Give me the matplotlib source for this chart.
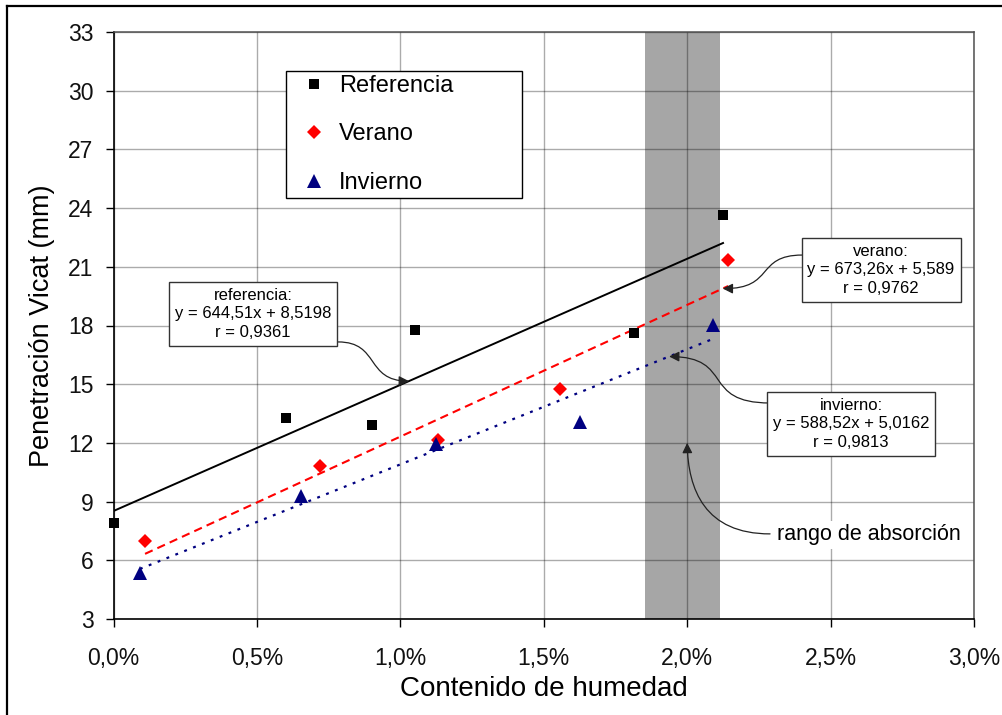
import matplotlib
matplotlib.use("Agg")
import matplotlib.pyplot as plt
from matplotlib.lines import Line2D
from matplotlib.patches import FancyArrowPatch
from matplotlib.path import Path
from matplotlib.ticker import FuncFormatter, MultipleLocator

plt.rcParams['font.family'] = ['Liberation Sans', 'DejaVu Sans']

# datos (contenido de humedad como fraccion, penetracion en mm)
ref_x = [0.0, 0.0060, 0.0090, 0.0105, 0.01815, 0.02125]
ref_y = [7.9, 13.28, 12.92, 17.77, 17.62, 23.65]
ver_x = [0.0011, 0.0072, 0.0113, 0.01557, 0.02143]
ver_y = [6.99, 10.84, 12.15, 14.76, 21.35]
inv_x = [0.00092, 0.00654, 0.01125, 0.01627, 0.0209]
inv_y = [5.36, 9.3, 11.95, 13.07, 18.03]

series_names = ['Referencia', 'Verano', 'Invierno']
fit_names = ['referencia', 'verano', 'invierno']
slopes = [644.51, 673.26, 588.52]
intercepts = [8.5198, 5.589, 5.0162]
r_values = [0.9361, 0.9762, 0.9813]

# rango de absorcion
band = [0.01852, 0.02114]

fig = plt.figure(figsize=(10.02, 7.15), dpi=100)
ax = fig.add_axes([113.5/1002, 1-619/715, 860.5/1002, 587/715])

ax.axvspan(band[0], band[1], color='#a6a6a6', lw=0, zorder=0)

xs = [ref_x, ver_x, inv_x]
ys = [ref_y, ver_y, inv_y]
colors = ['black', 'red', '#000080']
markers = ['s', 'D', '^']
msizes = [7.2, 7.6, 10.5]
lstyles = ['-', (0, (4, 2.5)), (0, (1.3, 3))]
lws = [1.4, 1.5, 1.6]

for i in range(3):
    x0, x1 = min(xs[i]), max(xs[i])
    ax.plot([x0, x1], [slopes[i]*x0 + intercepts[i], slopes[i]*x1 + intercepts[i]],
            color=colors[i], ls=lstyles[i], lw=lws[i], zorder=2)
for i in range(3):
    ax.plot(xs[i], ys[i], markers[i], color=colors[i], ms=msizes[i], mew=0,
            label=series_names[i], zorder=3, clip_on=False)

ax.set_xlim(0, 0.03)
ax.set_ylim(3, 33)
ax.xaxis.set_major_locator(MultipleLocator(0.005))
ax.yaxis.set_major_locator(MultipleLocator(3))
ax.xaxis.set_major_formatter(FuncFormatter(lambda v, p: f"{v*100:.1f}%".replace('.', ',')))
ax.grid(True, color='black', alpha=0.33, lw=1)
ax.set_axisbelow(True)
ax.tick_params(axis='x', direction='out', length=5.8, width=1, pad=14, labelsize=16.5, labelcolor='#111111')
ax.tick_params(axis='y', direction='out', length=5.8, width=1, pad=8.6, labelsize=16.5, labelcolor='#111111')
for s in ['left', 'bottom']:
    ax.spines[s].set_color('black')
    ax.spines[s].set_linewidth(1.2)
for s in ['top', 'right']:
    ax.spines[s].set_color('#505050')
    ax.spines[s].set_linewidth(1.1)

ax.set_xlabel('Contenido de humedad', fontsize=20, labelpad=5)
ax.set_ylabel('Penetración Vicat (mm)', fontsize=19.5, labelpad=9)

leg = ax.legend(loc='upper left', bbox_to_anchor=(0.2005, 0.5, 0.2742, 0.434), mode='expand',
                borderaxespad=0, fontsize=17, frameon=True, fancybox=False, numpoints=1,
                labelspacing=1.12, borderpad=0.18, handlelength=2.0, handletextpad=0.05)
leg.get_frame().set_edgecolor('black')
leg.get_frame().set_linewidth(1)
leg.get_frame().set_alpha(1)
leg.set_zorder(6)

# cuadros de las ecuaciones
box_pos = [(0.00486, 18.59), (0.02676, 20.84), (0.02571, 12.97)]
for i in range(3):
    txt = f"{fit_names[i]}:\ny = {slopes[i]}x + {intercepts[i]}\nr = {r_values[i]}".replace('.', ',')
    ax.text(box_pos[i][0], box_pos[i][1], txt, ha='center', va='center', fontsize=12,
            linespacing=1.3, zorder=6,
            bbox=dict(boxstyle='square,pad=0.35', fc='white', ec='#333333', lw=1))

ax.text(0.02313, 7.3, 'rango de absorción', ha='left', va='center', fontsize=15.5, zorder=6,
        bbox=dict(boxstyle='square,pad=0.15', fc='white', ec='none'))

# flechas curvas (inicio, controles, punta sobre la recta)
head_x = [0.0103, 0.02124, 0.01937]
starts = [(0.00783, 17.16), (0.02401, 21.60), (0.02289, 14.04)]
ctrl1 = [(0.00929, 17.16), (0.02237, 21.60), (0.02045, 14.04)]
ctrl2 = [(0.00877, 15.17), (0.02306, 19.87), (0.02167, 16.39)]
arrow_paths = []
for i in range(3):
    tip = (head_x[i], slopes[i]*head_x[i] + intercepts[i])
    arrow_paths.append([starts[i], ctrl1[i], ctrl2[i], tip])
arrow_paths.append([(0.02289, 7.35), (0.02062, 7.35), (0.02003, 9.6), (0.0200, 12.0)])

for pts in arrow_paths:
    p = Path(pts, [Path.MOVETO, Path.CURVE4, Path.CURVE4, Path.CURVE4])
    a = FancyArrowPatch(path=p, arrowstyle='-|>,head_length=0.4,head_width=0.2',
                        mutation_scale=15, color='#222222', lw=0.9, zorder=5)
    ax.add_patch(a)

# marco exterior
fig.add_artist(Line2D([7/1002, 7/1002], [0, 1-6/715], color='black', lw=1.6,
                      transform=fig.transFigure))
fig.add_artist(Line2D([7/1002, 1], [1-6/715, 1-6/715], color='black', lw=1.6,
                      transform=fig.transFigure))

fig.savefig('out.png', dpi=100, facecolor='white')
